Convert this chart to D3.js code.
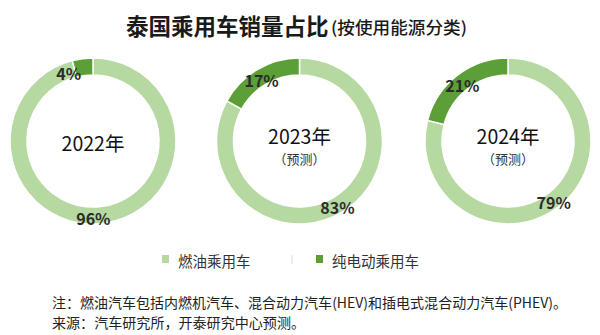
<!DOCTYPE html>
<html><head><meta charset="utf-8">
<script src="https://cdn.jsdelivr.net/npm/d3@7"></script>
<style>
html,body{margin:0;padding:0;background:#fff;}
svg{display:block;}
</style></head>
<body>
<svg id="c" width="600" height="335"></svg>
<script>
const years = ["2022年", "2023年", "2024年"];
const subLabels = ["", "（预测）", "（预测）"];
const series = ["燃油乘用车", "纯电动乘用车"];
const fuelShare = [96, 83, 79];
const evShare = [4, 17, 21];
const title = "泰国乘用车销量占比";
const subtitle = "(按使用能源分类)";
const notes = ["注：燃油汽车包括内燃机汽车、混合动力汽车(HEV)和插电式混合动力汽车(PHEV)。",
               "来源：汽车研究所，开泰研究中心预测。"];

const colors = d3.scaleOrdinal().domain(series).range(["#b6d9a2", "#5c9f37"]);
const svg = d3.select("#c");
const font = "'Noto Sans CJK SC','Noto Sans',sans-serif";

// title
svg.append("text").attr("x", 126).attr("y", 35).attr("font-family", font).attr("fill", "#1a1a1a")
  .attr("font-size", 22.5).attr("font-weight", "bold").text(title);
svg.append("text").attr("x", 331).attr("y", 34).attr("font-family", font).attr("fill", "#1a1a1a")
  .attr("font-size", 16.5).attr("font-weight", 500)
  .attr("textLength", 136).attr("lengthAdjust", "spacingAndGlyphs").text(subtitle);

const cx = d3.scalePoint().domain(years).range([93, 508]);
const cy = 141, rOut = 83, rIn = 66;
const pie = d3.pie().sort(null).value(d => d.v);
const arc = d3.arc().innerRadius(rIn).outerRadius(rOut);

years.forEach((y, i) => {
  const data = [{k: series[0], v: fuelShare[i]}, {k: series[1], v: evShare[i]}];
  const g = svg.append("g").attr("transform", `translate(${cx(y) + (i===1?-1:0)},${cy})`);
  const arcs = pie(data);
  g.selectAll("path").data(arcs).join("path")
    .attr("d", arc).attr("fill", d => colors(d.data.k))
    .attr("stroke", "#fff").attr("stroke-width", 1.5);
  g.selectAll("text.lab").data(arcs).join("text").attr("class", "lab")
    .attr("transform", d => {
      const c = arc.centroid(d);
      let dx = 0, dy = 2;
      if (d.data.v < 10) { dx = -15; dy = 6; }
      else if (d.data.v > 90) { dx = -9; dy = 3; }
      else if (d.index === 1) { dy = 3; }
      return `translate(${c[0] + dx},${c[1] + dy})`;
    })
    .attr("text-anchor", "middle").attr("dominant-baseline", "central")
    .attr("font-family", font).attr("font-weight", "bold").attr("font-size", 16)
    .attr("fill", "#2b2b2b").text(d => d.data.v + "%");
  const hasSub = subLabels[i] !== "";
  g.append("text").attr("y", hasSub ? -6 : 1).attr("text-anchor", "middle")
    .attr("dominant-baseline", "central").attr("font-family", font)
    .attr("font-size", 19.5).attr("fill", "#111").text(y);
  if (hasSub) g.append("text").attr("y", 17).attr("text-anchor", "middle")
    .attr("dominant-baseline", "central").attr("font-family", font)
    .attr("font-size", 13).attr("fill", "#333").text(subLabels[i]);
});

// legend
const lx = d3.scalePoint().domain(series).range([162, 316]);
const lg = svg.append("g");
series.forEach(s => {
  lg.append("rect").attr("x", lx(s)).attr("y", 255).attr("width", 7).attr("height", 8).attr("fill", colors(s));
  lg.append("text").attr("x", lx(s) + 16).attr("y", 260).attr("dominant-baseline", "central")
    .attr("font-family", font).attr("font-size", 14.5).attr("fill", "#333").text(s);
});
lg.append("line").attr("x1", 292).attr("x2", 292).attr("y1", 255).attr("y2", 264).attr("stroke", "#ddd");

// notes
svg.selectAll("text.note").data(notes).join("text").attr("class", "note")
  .attr("x", 52).attr("y", (d, i) => 302 + i * 20).attr("dominant-baseline", "central")
  .attr("font-family", font).attr("font-size", 14).attr("fill", "#222")
  .attr("textLength", (d, i) => i === 0 ? 515 : 253)
  .attr("lengthAdjust", "spacingAndGlyphs")
  .text(d => d);
</script>
</body></html>
